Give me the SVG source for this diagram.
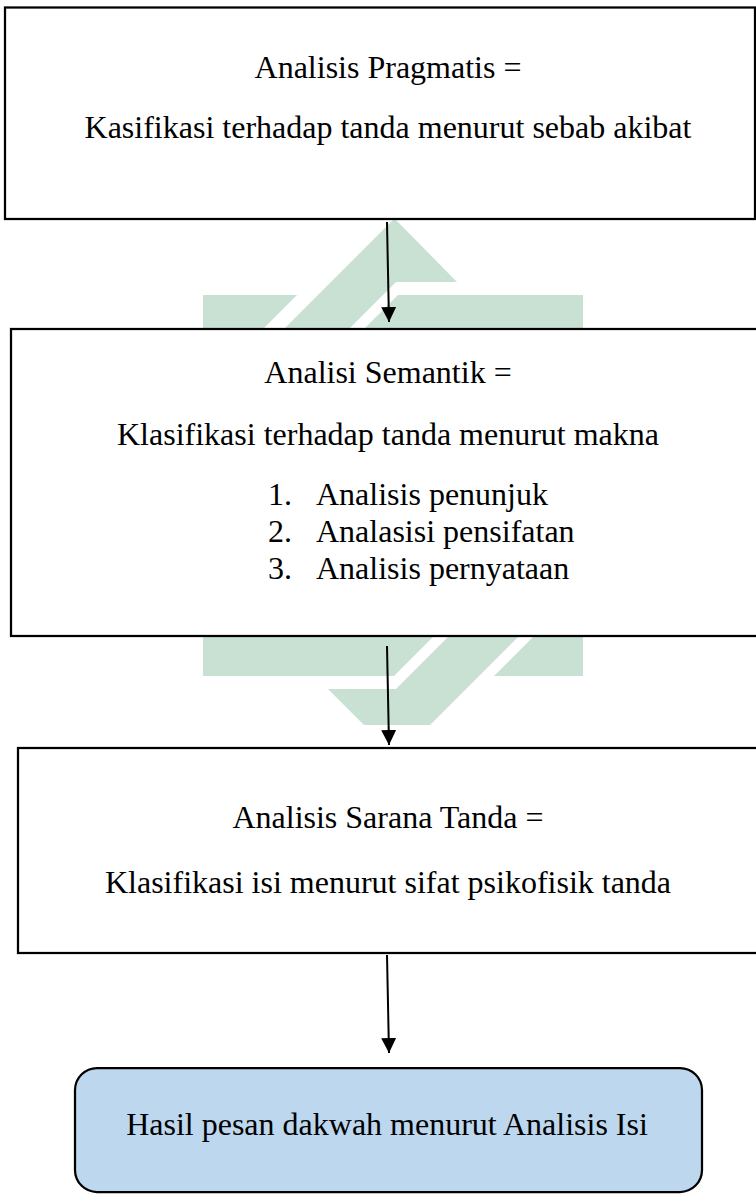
<svg xmlns="http://www.w3.org/2000/svg" width="756" height="1195" viewBox="0 0 756 1195">
<style>
.box{fill:#ffffff;stroke:#000000;stroke-width:2.25}
.term{fill:#bdd7ee;stroke:#000000;stroke-width:2.25}
.t{font-family:"Liberation Serif","Times New Roman",serif;font-size:32px;fill:#000000}
.c{text-anchor:middle}
.wm{fill:#c8e1d3;stroke:none}
.conn{stroke:#000000;stroke-width:2;fill:none}
</style>
<defs>
<marker id="ah" markerUnits="userSpaceOnUse" markerWidth="16" markerHeight="16" refX="15" refY="7.5" orient="auto">
<path d="M0,0 L15,7.5 L0,15 z" fill="#000000"/>
</marker>
</defs>
<rect x="0" y="0" width="756" height="1195" fill="#ffffff"/>
<g id="watermark">
<polygon class="wm" points="203,295 297,295 203,389"/>
<polygon class="wm" points="394.5,218.5 457,282 396,282 278,400 213,400"/>
<polygon class="wm" points="398,295 583,295 583,400 293,400"/>
<polygon class="wm" points="203,600 470,600 394,676 203,676"/>
<polygon class="wm" points="485,600 555,600 430,725 364,725 328,689 396,689"/>
<polygon class="wm" points="570,600 583,600 583,676 494,676"/>
</g>
<g id="node-pragmatis">
<rect class="box" x="5" y="7.5" width="750" height="211.5"/>
<text class="t c" x="388" y="78">Analisis Pragmatis =</text>
<text class="t c" x="388" y="138">Kasifikasi terhadap tanda menurut sebab akibat</text>
</g>
<g id="node-semantik">
<rect class="box" x="11" y="329" width="750" height="307"/>
<text class="t c" x="388" y="383">Analisi Semantik =</text>
<text class="t c" x="388" y="445">Klasifikasi terhadap tanda menurut makna</text>
<text class="t" x="268" y="505">1.</text>
<text class="t" x="316" y="505">Analisis penunjuk</text>
<text class="t" x="268" y="542">2.</text>
<text class="t" x="316" y="542">Analasisi pensifatan</text>
<text class="t" x="268" y="579">3.</text>
<text class="t" x="316" y="579">Analisis pernyataan</text>
</g>
<g id="node-sarana">
<rect class="box" x="18" y="748" width="745" height="205"/>
<text class="t c" x="388" y="828">Analisis Sarana Tanda =</text>
<text class="t c" x="388" y="893">Klasifikasi isi menurut sifat psikofisik tanda</text>
</g>
<g id="node-hasil">
<rect class="term" x="75" y="1068" width="627" height="124" rx="22" ry="22"/>
<text class="t c" x="387" y="1135">Hasil pesan dakwah menurut Analisis Isi</text>
</g>
<g id="connectors">
<line class="conn" x1="387" y1="222" x2="389" y2="322" marker-end="url(#ah)"/>
<line class="conn" x1="387" y1="646" x2="389" y2="745" marker-end="url(#ah)"/>
<line class="conn" x1="387" y1="955" x2="389" y2="1053" marker-end="url(#ah)"/>
</g>
</svg>
